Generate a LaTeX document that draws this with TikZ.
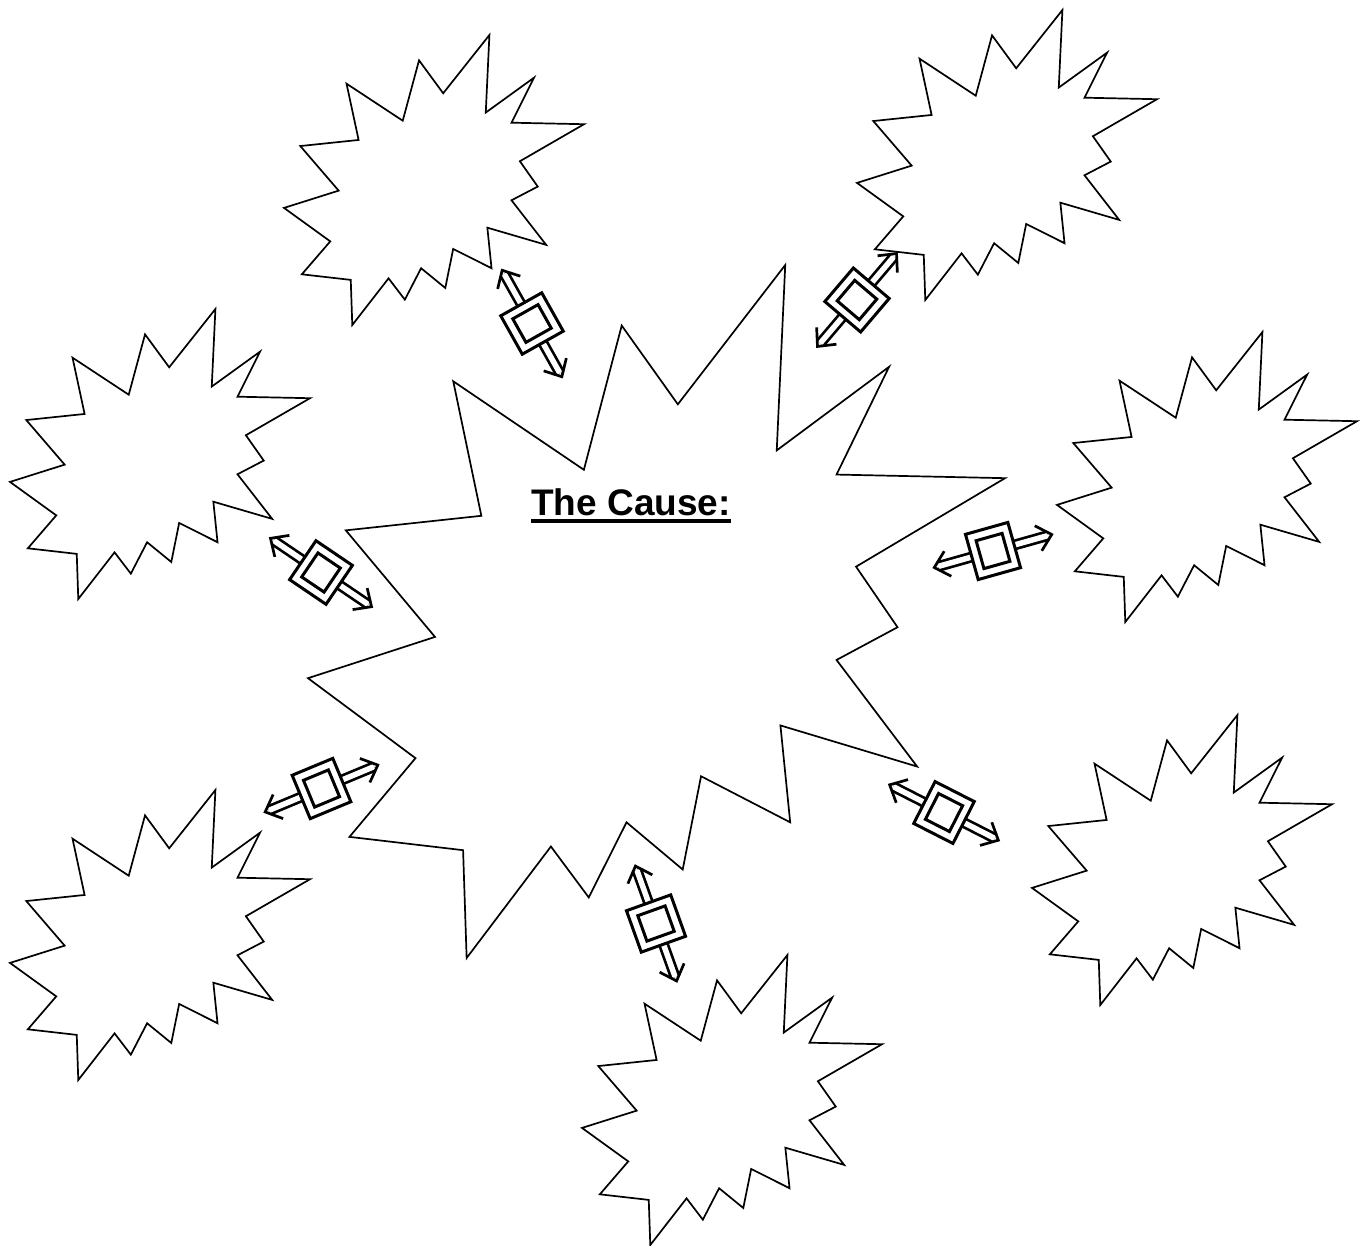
\documentclass[tikz,border=0pt]{standalone}
\usepackage{fontspec}
\setmainfont{Liberation Sans}

% explosion outline, left/top corner and size in px
\newcommand{\boom}[5]{%
  \draw[seal,shift={(#2,#3)},xscale=#4/100,yscale=#5/100]
    (53.06,20.10) -- (68.47,0) -- (67.25,26.75) -- (83.37,14.69) --
    (75.83,30.24) -- (100,30.76) -- (78.63,43.53) -- (84.58,52.27) --
    (75.83,56.99) -- (87.39,72.37) -- (67.78,66.44) -- (69.18,80.42) --
    (56.39,73.77) -- (53.76,87.23) -- (45.70,80.42) -- (40.28,91.26) --
    (34.85,83.91) -- (22.76,100) -- (22.25,84.44) -- (5.95,82.52) --
    (15.42,71.16) -- (0,59.62) -- (18.22,53.67) -- (5.43,38.29) --
    (24.87,36.19) -- (20.84,16.78) -- (39.58,29.55) -- (45.01,8.74) -- cycle;
  \coordinate (#1) at ({#2+#4/2},{#3+#5/2});}

% double arrow with boxed middle: name, centre, angle
\newcommand{\linkbox}[4]{%
  \begin{scope}[shift={(#2,#3)},rotate=#4]
    \coordinate (#1a) at (-61,0);
    \coordinate (#1b) at (61,0);
    \draw[shaft] (#1a) -- (#1b);
    \draw[barb] (-47,-13) -- (#1a) -- (-47,13);
    \draw[barb] (47,-13) -- (#1b) -- (47,13);
    \node[obox] (#1) at (0,0) {};
    \node[ibox] (#1i) at (#1) {};
  \end{scope}}

\begin{document}
\begin{tikzpicture}[x=1pt,y=-1pt,
    seal/.style={draw,line width=1.7pt,line join=miter,fill=white},
    shaft/.style={line width=2.7pt,double=white,double distance=5.5pt,
                  shorten <=4pt,shorten >=4pt},
    barb/.style={line width=2.7pt,line join=miter},
    obox/.style={rectangle,draw,fill=white,line width=3pt,inner sep=0pt,
                 minimum width=44pt,minimum height=47pt,transform shape},
    ibox/.style={rectangle,draw,line width=3pt,inner sep=0pt,
                 minimum width=27pt,minimum height=29pt,transform shape},
    cause/.style={font=\bfseries\fontsize{37}{44}\selectfont,
                  inner sep=0pt,anchor=base}]
    \fill[white] (0,0) rectangle (1364,1245);
    \useasboundingbox (0,0) rectangle (1364,1245);
    % explosions
    \boom{core}{308}{265}{697}{693}
    \boom{tl}{284}{35}{300}{290}
    \boom{tr}{857}{10}{300}{290}
    \boom{ml}{10}{309}{300}{290}
    \boom{mr}{1057}{332}{300}{290}
    \boom{bl}{10}{790}{300}{290}
    \boom{br}{1032}{715}{300}{290}
    \boom{bm}{582}{955}{300}{290}
    % title
    \node[cause] (cause) at (631,515) {The Cause:};
    \draw[line width=3.3pt] ([yshift=-6pt]cause.base west) --
      ([yshift=-6pt]cause.base east);
    % links
    \linkbox{l1}{532}{323.5}{-60.7}
    \linkbox{l2}{321}{572.5}{-34.1}
    \linkbox{l3}{857}{300}{49.6}
    \linkbox{l4}{993}{551}{15.7}
    \linkbox{l5}{944}{812.5}{-27}
    \linkbox{l6}{656}{923.5}{-70.3}
    \linkbox{l7}{321.5}{788.5}{22.6}
\end{tikzpicture}
\end{document}
